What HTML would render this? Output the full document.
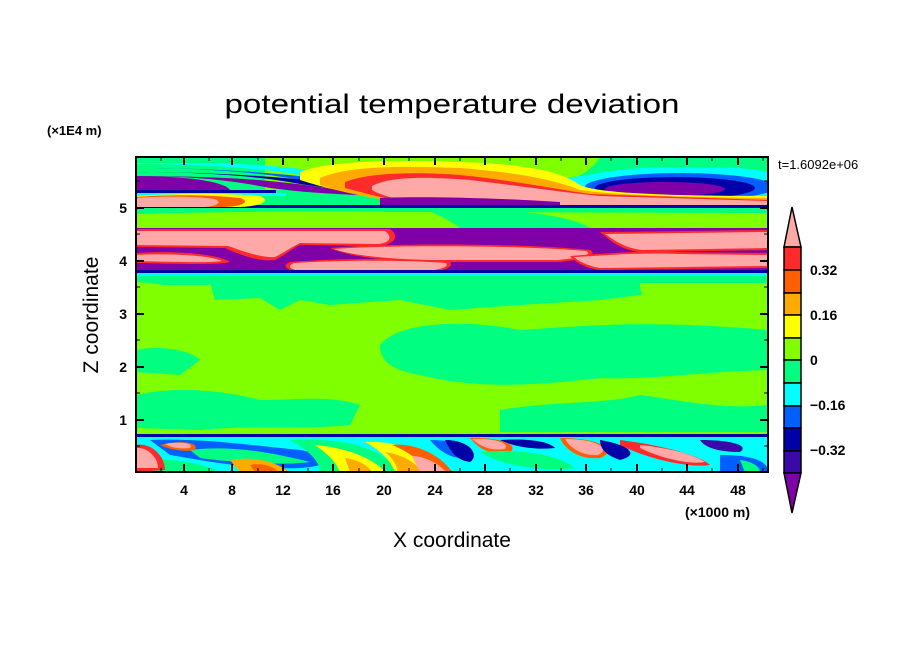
<!DOCTYPE html>
<html><head><meta charset="utf-8"><style>
html,body{margin:0;padding:0;background:#fff;}
svg{display:block;font-family:"Liberation Sans","DejaVu Sans",sans-serif;}
</style></head><body>
<svg width="904" height="654" viewBox="0 0 904 654" xmlns="http://www.w3.org/2000/svg">
<defs><clipPath id="pc"><rect x="136" y="157" width="632" height="315"/></clipPath></defs>
<text x="452" y="113" font-size="27" text-anchor="middle" textLength="455" lengthAdjust="spacingAndGlyphs">potential temperature deviation</text>
<text x="47" y="135" font-size="13" font-weight="bold">(×1E4 m)</text>
<text x="778" y="169" font-size="13">t=1.6092e+06</text>
<g clip-path="url(#pc)">
<rect x="136" y="157" width="632" height="315" fill="#80ff00"/>
<rect x="136" y="275" width="632" height="10" fill="#00ff80"/>
<path d="M136,282 L210,282 L215,300 L260,298 L280,310 L300,300 L330,305 L400,300 L450,310 L520,305 L600,300 L640,295 L700,300 L768,295 L768,282 Z" fill="#00ff80"/>
<path d="M136,282 C200,285 220,310 180,312 L136,310Z" fill="#80ff00"/>
<path d="M640,283 L768,283 L768,312 L660,310 C640,300 640,290 640,283Z" fill="#80ff00"/>
<path d="M380,345 C400,320 470,320 520,330 C600,325 650,320 768,330 L768,370 C700,372 650,380 600,378 C540,385 480,390 420,375 C390,370 380,360 380,345Z" fill="#00ff80"/>
<path d="M136,395 C180,385 230,392 260,400 C300,400 330,395 360,405 L350,425 C300,430 250,425 200,430 L136,428Z" fill="#00ff80"/>
<path d="M500,410 C560,400 600,405 640,395 C680,400 720,410 768,405 L768,432 L500,432Z" fill="#00ff80"/>
<path d="M136,350 C160,345 190,350 200,360 L180,375 L136,372Z" fill="#00ff80"/>
<!-- bottom turbulent -->
<rect x="136" y="435" width="632" height="37" fill="#00ffff"/>
<rect x="136" y="434" width="632" height="3" fill="#0000a8"/>
<path d="M150,440 C200,438 250,445 300,450 C330,455 340,465 300,468 C250,470 200,460 170,455Z" fill="#0060ff"/>
<path d="M190,450 C230,445 270,452 310,462 C280,466 230,462 200,458Z" fill="#00ff80"/>
<path d="M136,460 C170,458 200,462 220,472 L136,472Z" fill="#00ff80"/>
<path d="M290,440 C340,438 380,445 400,472 L320,472 C320,460 305,448 290,440Z" fill="#00ff80"/>
<path d="M315,445 C350,448 375,460 385,472 L340,472 C335,460 325,452 315,445Z" fill="#ffff00"/>
<path d="M345,458 C360,460 368,466 372,472 L350,472Z" fill="#ffaa00"/>
<path d="M365,442 C400,440 430,455 440,472 L395,472 C390,460 380,450 365,442Z" fill="#ffff00"/>
<path d="M385,452 C405,455 418,465 422,472 L398,472 C396,462 390,456 385,452Z" fill="#ffaa00"/>
<path d="M392,445 C420,442 445,460 452,472 L430,472 C420,460 405,450 392,445Z" fill="#ff5f00"/>
<path d="M412,456 C426,456 440,465 446,472 L420,472Z" fill="#ffa8a8"/>
<path d="M430,440 C460,440 480,450 470,458 C452,460 440,452 430,440Z" fill="#0060ff"/>
<path d="M445,440 C470,440 480,455 470,462 C455,460 450,450 445,440Z" fill="#0000a8"/>
<path d="M470,438 C500,437 520,445 510,452 C490,455 480,450 470,438Z" fill="#ff5f00"/>
<path d="M472,439 C495,438 510,443 505,449 C490,451 482,447 472,439Z" fill="#ffa8a8"/>
<path d="M480,452 C520,448 560,455 575,468 C540,472 500,465 480,452Z" fill="#00ff80"/>
<path d="M500,440 C530,438 550,442 555,448 C535,450 515,447 500,440Z" fill="#0000a8"/>
<path d="M560,438 C600,438 620,450 600,458 C580,460 565,450 560,438Z" fill="#ff5f00"/>
<path d="M565,439 C595,439 612,448 598,455 C582,456 570,448 565,439Z" fill="#ffa8a8"/>
<path d="M620,440 C660,445 700,455 710,465 C690,468 650,460 620,445Z" fill="#ff2a2a"/>
<path d="M640,445 C670,448 695,455 705,462 C690,465 660,458 640,448Z" fill="#ffa8a8"/>
<path d="M600,440 C630,445 640,455 620,460 C605,455 600,448 600,440Z" fill="#0000a8"/>
<path d="M700,440 C730,440 750,445 740,452 C720,452 705,448 700,440Z" fill="#3a0aa8"/>
<path d="M720,455 C750,455 768,460 768,472 L720,472Z" fill="#0060ff"/>
<path d="M740,460 C755,462 760,468 760,472 L745,472Z" fill="#00ff80"/>
<path d="M136,445 C150,442 165,455 165,470 L136,472Z" fill="#ff2a2a"/>
<path d="M136,448 C148,447 158,458 158,468 L136,468Z" fill="#ffa8a8"/>
<path d="M160,445 C180,440 200,442 195,450 C185,452 170,450 160,445Z" fill="#ff5f00"/>
<path d="M165,444 C180,441 195,443 190,448 C180,449 172,448 165,444Z" fill="#ffa8a8"/>
<path d="M230,460 C260,455 280,465 290,472 L240,472Z" fill="#ffaa00"/>
<path d="M250,465 C265,462 275,468 278,472 L255,472Z" fill="#ff5f00"/>
<!-- top region -->
<rect x="136" y="157" width="632" height="52" fill="#00ff80"/>
<path d="M265,157 L600,157 C590,175 560,190 500,190 L265,190Z" fill="#80ff00"/>
<path d="M136,164 C200,164 260,168 300,175 C350,182 400,185 460,188 L768,190 L768,172 C740,166 700,166 650,170 L560,178 C500,190 420,185 370,180 C320,170 260,163 200,163 L136,163Z" fill="#00ffff"/>
<path d="M136,168 C200,168 260,172 300,180 C350,188 420,190 480,192 L768,195 L768,178 C720,172 680,172 620,178 C560,185 500,192 400,188 C320,178 250,168 136,168Z" fill="#0060ff"/>
<path d="M136,172 C200,172 260,176 300,184 C350,192 420,195 480,196 L768,198 L768,185 C700,178 650,178 600,182 C550,190 500,196 420,192 C330,182 250,172 136,172Z" fill="#0000a8"/>
<path d="M136,176 C200,176 240,182 270,188 C300,192 330,194 360,195 L768,200 L768,190 C700,186 650,186 610,188 L340,190 C300,184 250,176 136,176Z" fill="#8000a8"/>
<path d="M136,176 C190,176 225,182 230,190 L136,191Z" fill="#8000a8"/>
<rect x="136" y="190" width="140" height="3" fill="#0000a8"/>
<ellipse cx="680" cy="185" rx="110" ry="18" fill="#00ffff"/>
<ellipse cx="680" cy="187" rx="95" ry="14" fill="#0060ff"/>
<ellipse cx="675" cy="188" rx="80" ry="11" fill="#0000a8"/>
<ellipse cx="665" cy="189" rx="60" ry="7" fill="#8000a8"/>
<path d="M300,172 C330,160 400,160 460,162 C520,164 560,170 580,185 C600,195 700,196 768,196 L768,205 L420,205 C380,200 330,190 300,180Z" fill="#ffff00"/>
<path d="M320,178 C350,165 410,166 460,168 C510,172 550,178 580,190 C620,196 700,197 768,198 L768,205 L420,205 C380,200 340,192 320,185Z" fill="#ffaa00"/>
<path d="M345,182 C370,172 420,172 460,175 C510,180 550,188 590,194 L768,200 L768,205 L420,205 C390,200 360,192 345,188Z" fill="#ff2a2a"/>
<path d="M372,186 C390,176 430,177 470,180 C520,186 560,192 600,196 L768,201 L768,205 L440,205 C400,202 380,195 372,190Z" fill="#ffa8a8"/>
<path d="M380,198 C420,196 500,198 560,202 L560,206 L380,206Z" fill="#8000a8"/>
<rect x="136" y="205" width="632" height="3" fill="#0000a8"/>
<rect x="136" y="193" width="150" height="3" fill="#00ffff"/>
<path d="M136,196 C180,193 230,193 260,196 C270,200 265,206 240,207 L136,207Z" fill="#ffff00"/>
<path d="M136,197 C170,194 215,195 240,198 C250,201 245,206 225,207 L136,207Z" fill="#ff5f00"/>
<path d="M136,198 C160,196 195,196 215,199 C222,202 218,206 205,207 L136,207Z" fill="#ffa8a8"/>
<rect x="136" y="208" width="632" height="20" fill="#80ff00"/>
<path d="M136,208 L768,208 L768,213 L400,212 C300,211 200,212 136,214Z" fill="#00ff80"/>
<path d="M420,208 C480,208 560,210 590,228 L460,228 C450,220 435,213 420,208Z" fill="#00ff80"/>
<rect x="136" y="228" width="632" height="46" fill="#8000a8"/>
<path d="M136,229 L390,229 C400,236 395,244 380,246 L300,245 C290,250 285,255 275,260 C260,262 240,255 225,248 L136,247Z" fill="#ff2a2a"/>
<path d="M136,231 L385,231 C393,237 390,243 378,244 L300,243 C290,248 285,252 275,257 C262,258 245,252 228,246 L136,245Z" fill="#ffa8a8"/>
<path d="M600,232 L768,230 L768,250 L640,252 C620,250 610,240 600,232Z" fill="#ff2a2a"/>
<path d="M605,234 L768,232 L768,248 L642,250 C624,248 614,240 605,234Z" fill="#ffa8a8"/>
<path d="M136,253 C180,250 220,255 230,262 C220,265 180,264 136,263Z" fill="#ff2a2a"/>
<path d="M136,255 C175,253 212,256 222,261 C210,263 175,262 136,261Z" fill="#ffa8a8"/>
<path d="M330,248 C380,243 520,243 590,250 C600,256 580,260 560,262 L440,262 C400,262 350,258 330,248Z" fill="#ff2a2a"/>
<path d="M334,249 C385,245 515,245 586,251 C594,255 578,258 558,260 L440,260 C400,260 352,256 334,249Z" fill="#ffa8a8"/>
<path d="M570,256 C600,254 640,250 680,252 L768,253 L768,268 L600,270 C585,268 575,262 570,256Z" fill="#ff2a2a"/>
<path d="M574,257 C600,256 640,252 680,254 L768,255 L768,266 L600,268 C588,266 578,261 574,257Z" fill="#ffa8a8"/>
<path d="M290,262 C340,258 410,258 450,262 C455,268 440,272 420,273 L300,273 C285,270 282,265 290,262Z" fill="#ff2a2a"/>
<path d="M294,263 C340,260 408,260 446,263 C450,267 438,271 420,271 L300,271 C289,269 287,266 294,263Z" fill="#ffa8a8"/>
<rect x="136" y="270" width="632" height="3" fill="#0000a8"/>
<rect x="136" y="273" width="632" height="3" fill="#00ffff"/>
</g>
<rect x="136" y="157" width="632" height="315" fill="none" stroke="#000" stroke-width="2"/>
<g stroke="#000" stroke-width="2">
<path d="M184,472v-8M232,472v-8M283,472v-8M333,472v-8M384,472v-8M435,472v-8M485,472v-8M536,472v-8M586,472v-8M637,472v-8M687,472v-8M738,472v-8"/>
<path d="M184,157v8M232,157v8M283,157v8M333,157v8M384,157v8M435,157v8M485,157v8M536,157v8M586,157v8M637,157v8M687,157v8M738,157v8"/>
<path d="M136,420h8M136,367h8M136,314h8M136,261h8M136,208h8M768,420h-8M768,367h-8M768,314h-8M768,261h-8M768,208h-8"/>
</g>
<g stroke="#000" stroke-width="1">
<path d="M161,472v-4M209,472v-4M258,472v-4M308,472v-4M359,472v-4M409,472v-4M460,472v-4M510,472v-4M561,472v-4M611,472v-4M662,472v-4M712,472v-4M763,472v-4"/>
<path d="M161,157v4M209,157v4M258,157v4M308,157v4M359,157v4M409,157v4M460,157v4M510,157v4M561,157v4M611,157v4M662,157v4M712,157v4M763,157v4"/>
<path d="M136,446h4M136,393h4M136,340h4M136,287h4M136,234h4M136,181h4M768,446h-4M768,393h-4M768,340h-4M768,287h-4M768,234h-4M768,181h-4"/>
</g>
<g font-size="14" font-weight="bold" text-anchor="middle">
<text x="184" y="495">4</text><text x="232" y="495">8</text><text x="283" y="495">12</text><text x="333" y="495">16</text><text x="384" y="495">20</text><text x="435" y="495">24</text><text x="485" y="495">28</text><text x="536" y="495">32</text><text x="586" y="495">36</text><text x="637" y="495">40</text><text x="687" y="495">44</text><text x="738" y="495">48</text>
</g>
<g font-size="14" font-weight="bold" text-anchor="end">
<text x="127" y="425">1</text><text x="127" y="372">2</text><text x="127" y="319">3</text><text x="127" y="266">4</text><text x="127" y="213">5</text>
</g>
<text x="685" y="517" font-size="14" font-weight="bold">(×1000 m)</text>
<text x="452" y="547" font-size="21" text-anchor="middle">X coordinate</text>
<text transform="translate(98,315) rotate(-90)" font-size="21" text-anchor="middle">Z coordinate</text>
<g stroke="#000" stroke-width="1.5">
<polygon points="784,247 792,207 801,247" fill="#ffa8a8"/>
<rect x="784" y="247" width="17" height="23" fill="#ff2a2a"/>
<rect x="784" y="270" width="17" height="23" fill="#ff5f00"/>
<rect x="784" y="293" width="17" height="22" fill="#ffaa00"/>
<rect x="784" y="315" width="17" height="23" fill="#ffff00"/>
<rect x="784" y="338" width="17" height="22" fill="#80ff00"/>
<rect x="784" y="360" width="17" height="23" fill="#00ff80"/>
<rect x="784" y="383" width="17" height="23" fill="#00ffff"/>
<rect x="784" y="406" width="17" height="22" fill="#0060ff"/>
<rect x="784" y="428" width="17" height="23" fill="#0000a8"/>
<rect x="784" y="451" width="17" height="22" fill="#3a0aa8"/>
<polygon points="784,473 792,513 801,473" fill="#8000a8"/>
</g>
<g font-size="14" font-weight="bold">
<text x="810" y="275">0.32</text><text x="810" y="320">0.16</text><text x="810" y="365">0</text><text x="810" y="410">−0.16</text><text x="810" y="455">−0.32</text>
</g>
</svg>
</body></html>
